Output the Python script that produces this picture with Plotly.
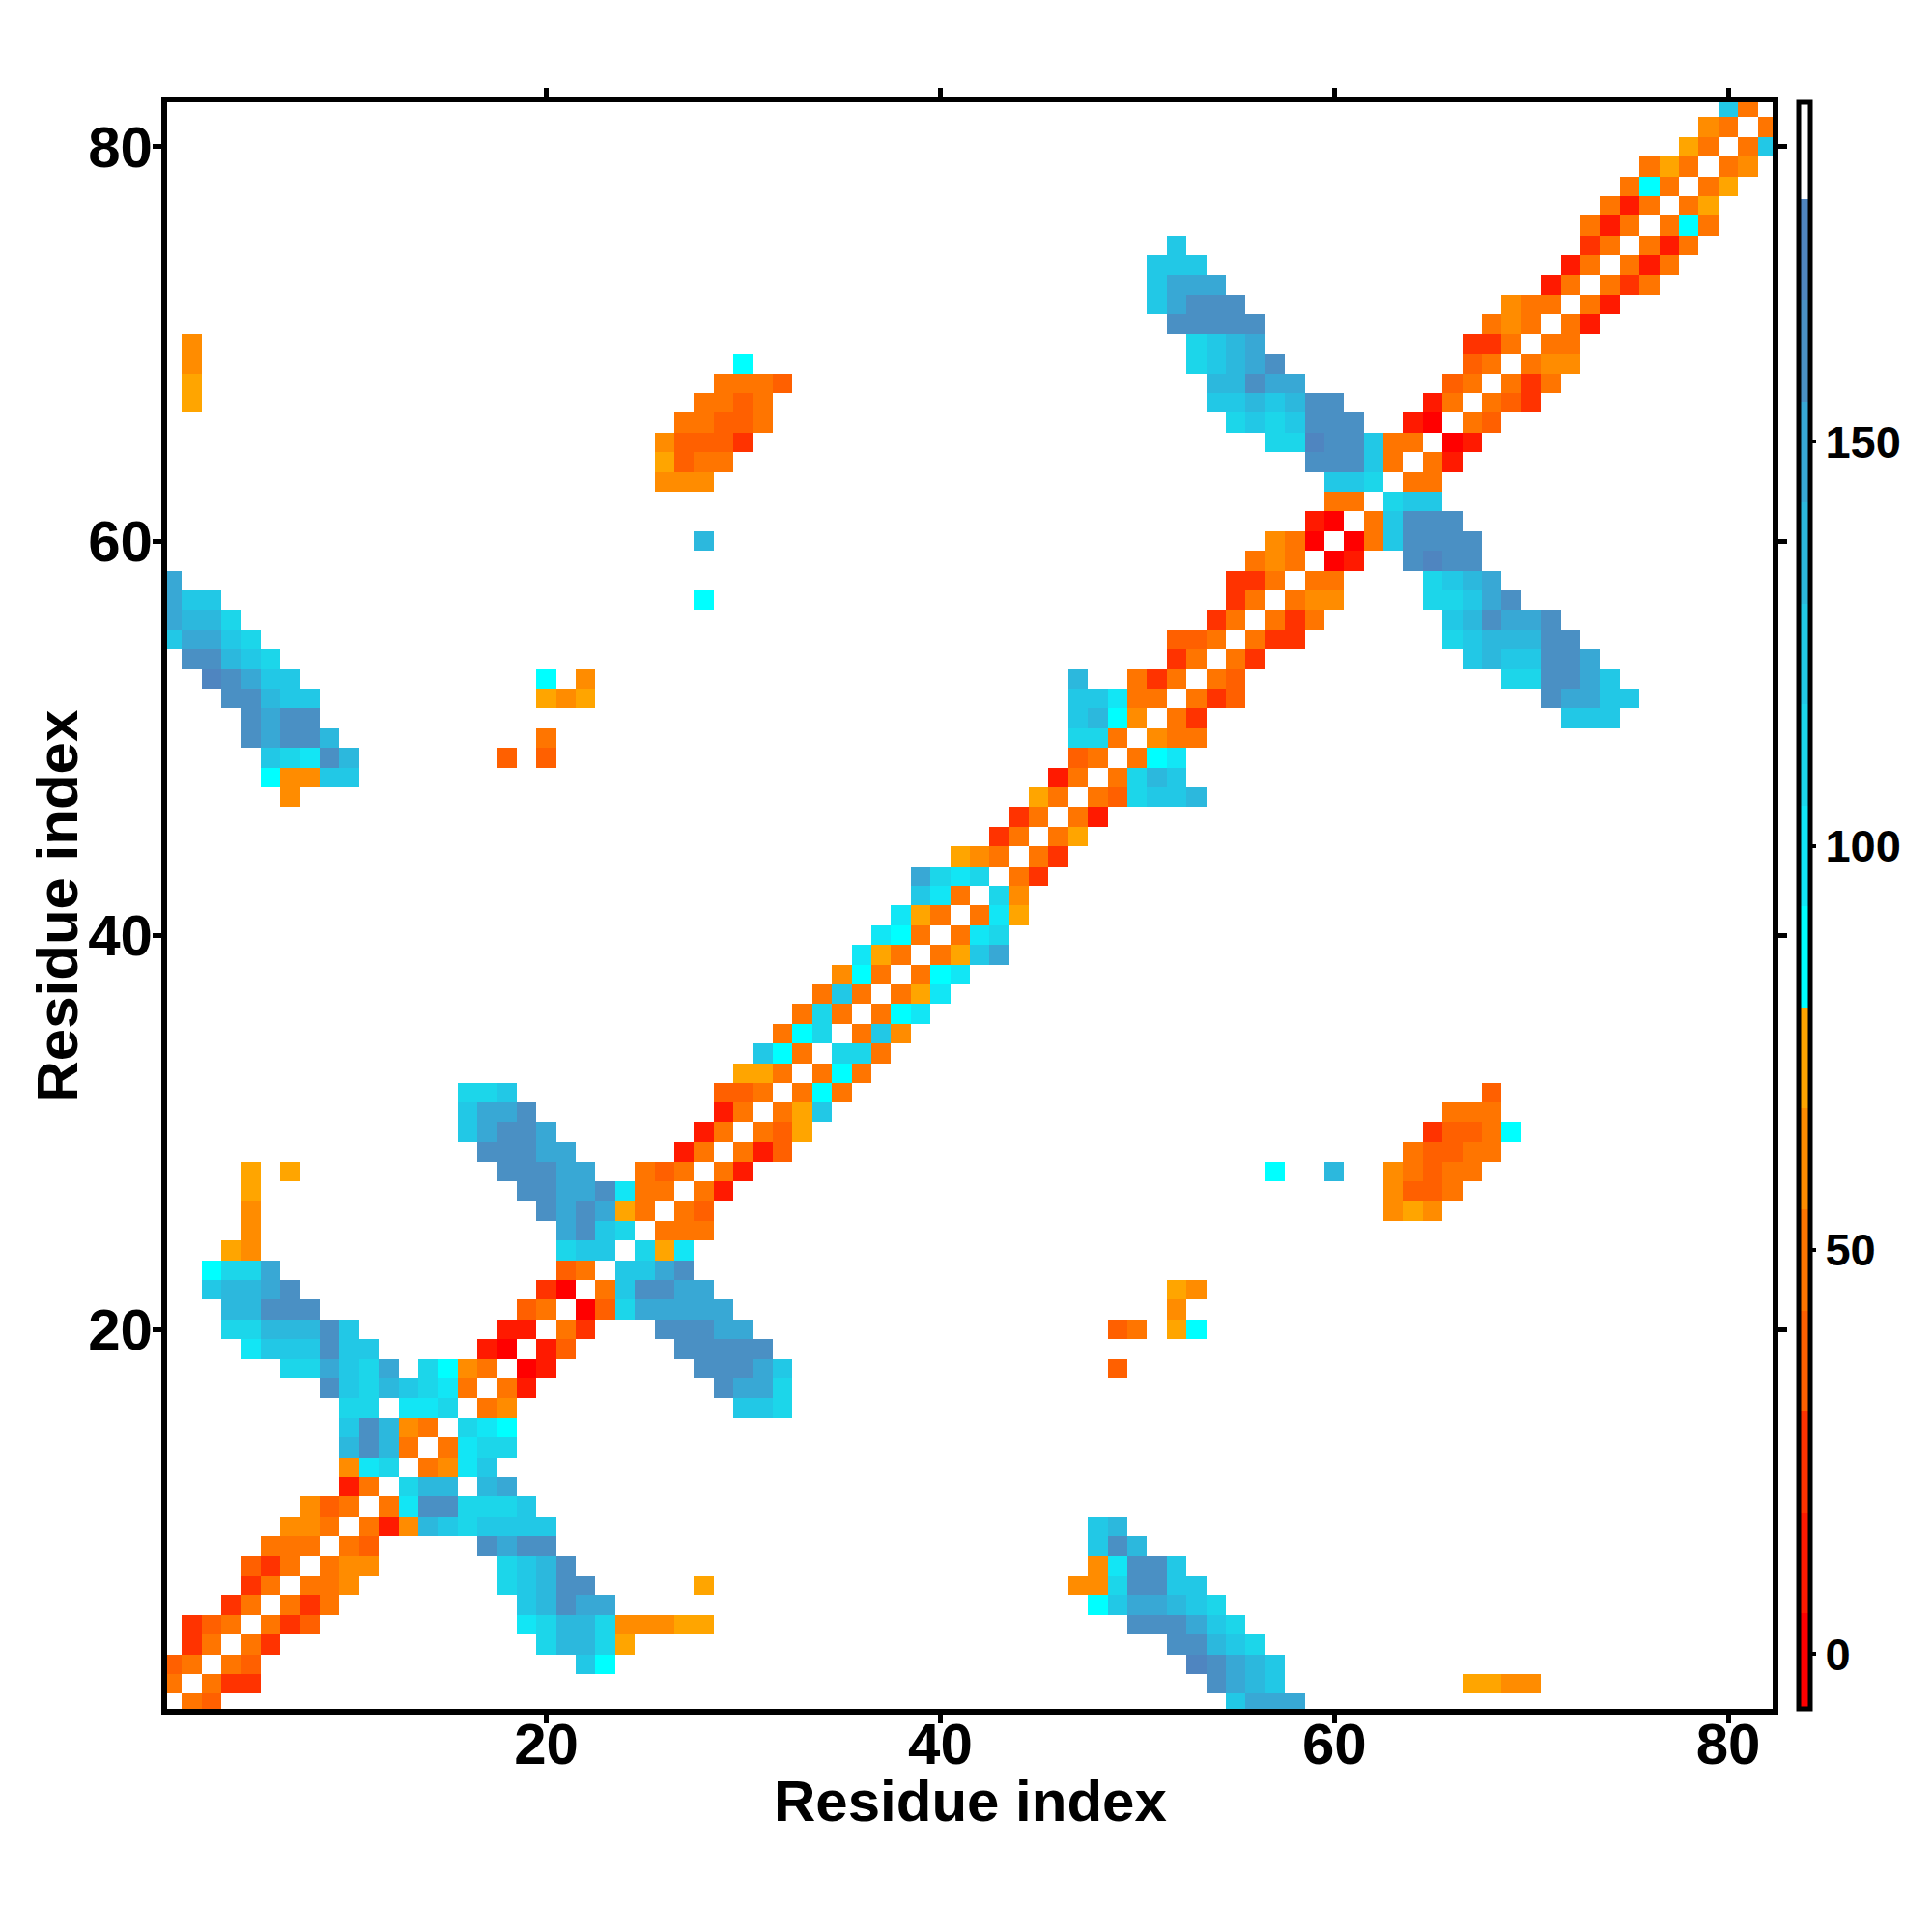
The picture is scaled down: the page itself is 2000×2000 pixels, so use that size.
import plotly.graph_objects as go

N_RESIDUES = 82
tick_values = [20, 40, 60, 80]
colorbar_ticks = [0, 50, 100, 150]
x_title = "Residue index"
y_title = "Residue index"
band_edges = [-7.5, 5, 17.5, 30, 42.5, 55, 67.5, 80, 92.5, 105, 117.5, 130, 142.5, 155, 167.5, 180, 192.5]
band_colors = ["#ff0000", "#ff1a00", "#ff3300", "#ff6000", "#ff7500", "#ff8c00", "#ffa500", "#00ffff",
               "#12e6f5", "#1cd6ea", "#22c8e6", "#2cb8dd", "#38a8d5", "#4a90c4", "#4f85c0", "#ffffff"]

# Contacts above the diagonal: residue i -> (first residue j, band per consecutive j as hex digits)
contacts = {
    1: [(2, "43"), (55, "accc")],
    2: [(3, "422"), (54, "dcba"), (67, "6655")],
    3: [(4, "43"), (22, "a7"), (53, "edcba")],
    4: [(5, "42"), (20, "9bb96"), (52, "ddba9")],
    5: [(6, "423"), (19, "89bb955566"), (50, "dddca9")],
    6: [(7, "424"), (19, "abdcc"), (48, "7accba9")],
    7: [(8, "445"), (18, "9abdd"), (28, "6"), (47, "559ddaa")],
    8: [(9, "455"), (18, "9abd"), (48, "58dda")],
    9: [(10, "43"), (17, "dcdd"), (48, "adb")],
    10: [(11, "415ba9aaaa"), (48, "ab")],
    11: [(12, "48dd999a")],
    12: [(13, "9bb"), (17, "bc")],
    13: [(14, "458a")],
    14: [(15, "4899")],
    15: [(16, "987")],
    16: [(17, "45"), (30, "aa9")],
    17: [(18, "41"), (29, "dcc9")],
    18: [(19, "01"), (28, "dddca"), (49, "3")],
    19: [(20, "13"), (27, "ddddd")],
    20: [(21, "42"), (26, "dddcc"), (49, "34"), (52, "67")],
    21: [(22, "039ccccc"), (52, "5")],
    22: [(23, "4addcc"), (52, "65")],
    23: [(24, "aacd")],
    24: [(25, "968")],
    25: [(26, "444")],
    26: [(27, "43"), (63, "565")],
    27: [(28, "41"), (63, "5334")],
    28: [(29, "41"), (57, "7"), (60, "b"), (63, "54344")],
    29: [(30, "413"), (64, "43344")],
    30: [(31, "436"), (65, "23347")],
    31: [(32, "46a"), (66, "444")],
    32: [(33, "474"), (68, "3")],
    33: [(34, "474")],
    34: [(35, "994")],
    35: [(36, "4a5")],
    36: [(37, "478")],
    37: [(38, "468")],
    38: [(39, "478")],
    39: [(40, "46ac")],
    40: [(41, "489")],
    41: [(42, "486")],
    42: [(43, "95")],
    43: [(44, "42")],
    44: [(45, "42")],
    45: [(46, "46")],
    46: [(47, "41")],
    47: [(48, "439aab")],
    48: [(49, "49ba")],
    49: [(50, "478")],
    50: [(51, "544")],
    51: [(52, "42"), (72, "aaa")],
    52: [(53, "423"), (71, "dccaa")],
    53: [(54, "43"), (69, "99ddca")],
    54: [(55, "42"), (67, "abaaddc")],
    55: [(56, "422"), (66, "9abbbdd")],
    56: [(57, "424"), (66, "abdccd")],
    57: [(58, "455"), (65, "99acd")],
    58: [(59, "44"), (65, "9abc")],
    59: [(60, "01"), (64, "dedd")],
    60: [(61, "04"), (63, "adddd")],
    61: [(62, "4addd")],
    62: [(63, "9aa")],
    63: [(64, "44")],
    64: [(65, "41")],
    65: [(66, "01")],
    66: [(67, "43")],
    67: [(68, "432")],
    68: [(69, "424")],
    69: [(70, "455")],
    70: [(71, "44")],
    71: [(72, "41")],
    72: [(73, "41")],
    73: [(74, "424")],
    74: [(75, "414")],
    75: [(76, "414")],
    76: [(77, "474")],
    77: [(78, "46")],
    78: [(79, "46")],
    79: [(80, "45")],
    80: [(81, "4a")],
    81: [(82, "4")],
}

residues = list(range(1, N_RESIDUES + 1))
z = [[None] * N_RESIDUES for _ in residues]
for i, segments in contacts.items():
    for start, digits in segments:
        for offset, digit in enumerate(digits):
            band = int(digit, 16)
            value = (band_edges[band] + band_edges[band + 1]) / 2
            j = start + offset
            z[i - 1][j - 1] = value
            z[j - 1][i - 1] = value

zmin, zmax = -6.8, 192.0
colorscale = []
for k, color in enumerate(band_colors):
    colorscale.append([max(0.0, (band_edges[k] - zmin) / (zmax - zmin)), color])
    colorscale.append([min(1.0, (band_edges[k + 1] - zmin) / (zmax - zmin)), color])

FONT = "Liberation Sans"
fig = go.Figure(go.Heatmap(
    x=residues, y=residues, z=z, zmin=zmin, zmax=zmax, colorscale=colorscale,
    hoverongaps=False,
    colorbar=dict(
        x=1.0162, xanchor="left", xpad=0, y=0.5, yanchor="middle", ypad=0,
        len=1.0, lenmode="fraction", thickness=12, thicknessmode="pixels",
        outlinecolor="black", outlinewidth=5, borderwidth=0,
        tickmode="array", tickvals=colorbar_ticks, ticks="outside", ticklen=4, tickwidth=4,
        tickcolor="black",
        tickfont=dict(family=FONT, size=47, color="black", weight="bold"),
    ),
))
axis = dict(
    range=[0.75, 82.25], tickmode="array", tickvals=tick_values, showgrid=False, zeroline=False,
    showline=True, linecolor="black", linewidth=6, mirror="allticks",
    ticks="outside", ticklen=9, tickwidth=5, tickcolor="black",
    tickfont=dict(family=FONT, size=60, color="black", weight="bold"),
)
title_font = dict(family=FONT, size=60, color="black", weight="bold")
fig.update_layout(
    width=2000, height=2000, autosize=False,
    margin=dict(l=165, r=173, t=98, b=239, pad=0),
    paper_bgcolor="white", plot_bgcolor="white",
    xaxis=dict(axis, ticklabelstandoff=-30),
    yaxis=dict(axis, ticklabelstandoff=-12),
    annotations=[
        dict(text=x_title, xref="paper", yref="paper", x=0.5, y=-0.0577, xanchor="center",
             yanchor="middle", showarrow=False, font=title_font),
        dict(text=y_title, xref="paper", yref="paper", x=-0.068, y=0.5, xanchor="center",
             yanchor="middle", textangle=-90, showarrow=False, font=title_font),
    ],
)
fig.write_html("out.html")
